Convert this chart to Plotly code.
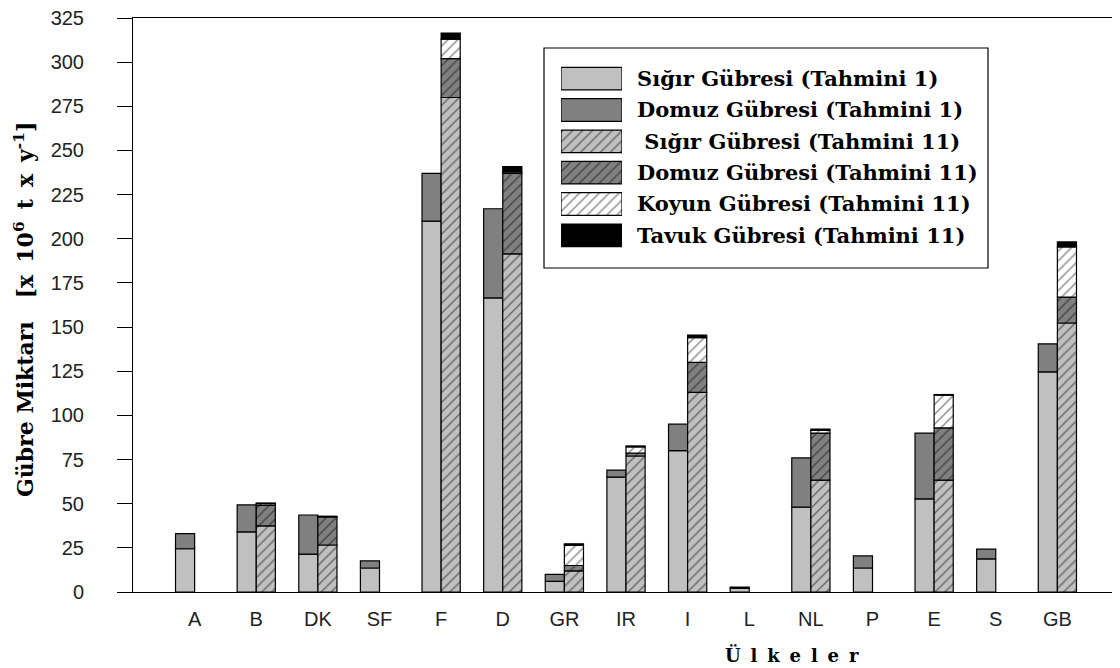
import plotly.graph_objects as go

countries = ["A", "B", "DK", "SF", "F", "D", "GR", "IR", "I", "L", "NL", "P", "E", "S", "GB"]

# Estimate I (Tahmini 1) segments
cattle1 = [24.5, 34.0, 21.5, 13.6, 210.0, 166.5, 6.0, 65.0, 80.0, 2.0, 48.0, 13.6, 52.7, 18.7, 124.6]
pig1 = [8.5, 15.3, 22.1, 4.0, 27.0, 50.5, 4.0, 4.0, 15.0, 0.8, 27.9, 6.8, 37.3, 5.6, 15.9]

# Estimate II (Tahmini 11) segments (None = no bar)
cattle2 = [None, 37.4, 26.6, None, 280.0, 191.5, 12.0, 77.0, 113.0, None, 63.4, None, 63.4, None, 152.3]
pig2 = [None, 11.6, 15.9, None, 22.0, 45.5, 3.0, 1.7, 17.0, None, 26.6, None, 29.5, None, 14.7]
sheep2 = [None, 1.0, 0.3, None, 11.0, 0.8, 11.5, 3.5, 14.0, None, 1.5, None, 18.6, None, 28.4]
chicken2 = [None, 0.4, 0.0, None, 3.5, 3.0, 0.8, 0.5, 1.5, None, 0.8, None, 0.3, None, 2.8]

names = [
    "Sığır Gübresi (Tahmini 1)",
    "Domuz Gübresi (Tahmini 1)",
    "\u00a0Sığır Gübresi (Tahmini 11)",
    "Domuz Gübresi (Tahmini 11)",
    "Koyun Gübresi (Tahmini 11)",
    "Tavuk Gübresi (Tahmini 11)",
]

xpos = list(range(len(countries)))
W = 0.31

line = dict(color="black", width=1.2)
pat = dict(shape="/", fgcolor="black", size=7, solidity=0.18)
styles = [
    dict(color="#c0c0c0", line=line),
    dict(color="#808080", line=line),
    dict(color="#c0c0c0", line=line, pattern=dict(bgcolor="#c0c0c0", **pat)),
    dict(color="#808080", line=line, pattern=dict(bgcolor="#808080", **pat)),
    dict(color="white", line=line, pattern=dict(bgcolor="white", **pat)),
    dict(color="black", line=line),
]


def bases(*layers):
    out = []
    for i in range(len(countries)):
        if layers[0][i] is None:
            out.append(None)
        else:
            out.append(sum(l[i] for l in layers))
    return out


fig = go.Figure()

# Estimate I
fig.add_trace(go.Bar(x=xpos, y=cattle1, base=[0] * len(countries), width=W, offset=-W,
                     marker=styles[0], name=names[0], showlegend=False))
fig.add_trace(go.Bar(x=xpos, y=pig1, base=bases(cattle1), width=W, offset=-W,
                     marker=styles[1], name=names[1], showlegend=False))
# Estimate II
fig.add_trace(go.Bar(x=xpos, y=cattle2, base=[0 if v is not None else None for v in cattle2],
                     width=W, offset=0, marker=styles[2], name=names[2], showlegend=False))
fig.add_trace(go.Bar(x=xpos, y=pig2, base=bases(cattle2), width=W, offset=0,
                     marker=styles[3], name=names[3], showlegend=False))
fig.add_trace(go.Bar(x=xpos, y=sheep2, base=bases(cattle2, pig2), width=W, offset=0,
                     marker=styles[4], name=names[4], showlegend=False))
fig.add_trace(go.Bar(x=xpos, y=chicken2, base=bases(cattle2, pig2, sheep2), width=W, offset=0,
                     marker=styles[5], name=names[5], showlegend=False))

# Legend drawn as a small subplot: wide swatches + labels
for nm, st in zip(names, styles):
    fig.add_trace(go.Bar(y=[nm], x=[1], orientation="h", width=0.72, marker=st,
                         xaxis="x2", yaxis="y2", showlegend=False, hoverinfo="skip"))

axis_font = dict(family="Liberation Sans, Arial, sans-serif", size=20, color="#222")
serif_bold = "DejaVu Serif, serif"


# plot area in window pixels: x 133..1119, y 18..592 (body margin of 8px compensated)
def px(x):
    return (x - 133) / 986.0


def py(y):
    return (592 - y) / 574.0


sp = "\u00a0\u2009"

fig.update_layout(
    width=1112, height=660,
    margin=dict(l=125, r=1, t=10, b=76),
    paper_bgcolor="white", plot_bgcolor="white",
    barmode="overlay",
    showlegend=False,
    xaxis=dict(
        range=[-1, 15], tickmode="array", tickvals=xpos, ticktext=countries,
        showline=True, linecolor="black", linewidth=1, mirror=True,
        ticks="", showgrid=False, zeroline=False, tickfont=axis_font,
        ticklabelstandoff=9, automargin=False,
    ),
    yaxis=dict(
        range=[0, 325], tickmode="linear", tick0=0, dtick=25,
        showline=True, linecolor="black", linewidth=1, mirror=True,
        ticks="outside", ticklen=15, tickcolor="black", tickwidth=1,
        showgrid=False, zeroline=False, tickfont=axis_font,
        ticklabelstandoff=29, automargin=False, ticklabeloverflow="allow",
    ),
    xaxis2=dict(domain=[px(561), px(622)], range=[0, 1], anchor="y2", visible=False,
                fixedrange=True),
    yaxis2=dict(domain=[py(251), py(63)], range=[5.5, -0.5], anchor="x2", side="right",
                type="category", categoryorder="array", categoryarray=names,
                showline=False, showgrid=False, zeroline=False, ticks="",
                ticklabelstandoff=14, automargin=False, fixedrange=True,
                tickfont=dict(family=serif_bold, size=21, color="black", weight="bold")),
    shapes=[
        dict(type="rect", xref="paper", yref="paper", x0=px(544), x1=px(988),
             y0=py(268), y1=py(48), line=dict(color="black", width=1.2),
             fillcolor="white", layer="below"),
    ],
    annotations=[
        dict(text=("Gübre Miktarı\u00a0\u00a0 [x" + sp + "10<sup>6</sup>" + sp + "t" + sp
                   + "x" + sp + "y<sup>-1</sup>]"),
             x=px(24), y=py(310), xref="paper", yref="paper", textangle=-90,
             xanchor="center", yanchor="middle", showarrow=False,
             font=dict(family=serif_bold, size=22, color="black", weight="bold")),
        dict(text="Ü\u00a0\u2009l\u00a0\u2009k\u00a0\u2009e\u00a0\u2009l\u00a0\u2009e\u00a0\u2009r",
             x=px(792), y=py(655), xref="paper", yref="paper",
             xanchor="center", yanchor="middle", showarrow=False,
             font=dict(family=serif_bold, size=18, color="black", weight="bold")),
    ],
)

fig.write_html("out.html")
